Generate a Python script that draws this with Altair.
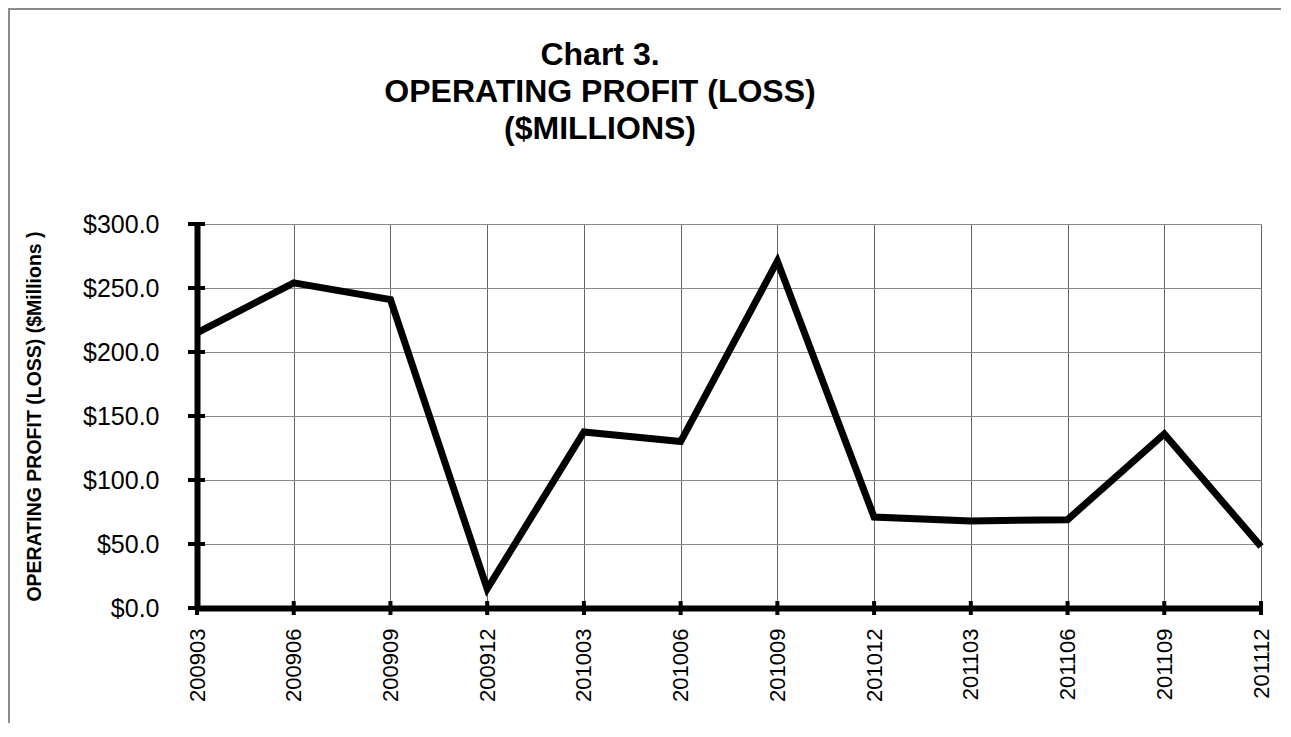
import altair as alt
import pandas as pd

periods = ["200903", "200906", "200909", "200912", "201003", "201006",
           "201009", "201012", "201103", "201106", "201109", "201112"]
profit = [215, 254, 241, 15, 137.5, 130, 271, 71, 68, 69, 136, 48]
y_ticks = [0, 50, 100, 150, 200, 250, 300]

title_lines = ["Chart 3.", "OPERATING PROFIT (LOSS)", "($MILLIONS)"]
y_title = "OPERATING PROFIT (LOSS) ($Millions )"

FONT = "Liberation Sans"
W, H = 1064, 384

df = pd.DataFrame({"period": periods, "value": profit})
df_yt = pd.DataFrame({"value": y_ticks})
df_xt = pd.DataFrame({"period": periods})

x_scale = alt.Scale(type="point", padding=0, domain=periods)
y_scale = alt.Scale(domain=[0, 300], nice=False, zero=True)

x_axis = alt.Axis(title=None, labelAngle=-90, labelFontSize=22, labelFont=FONT,
                  labelColor="black", labelPadding=20, ticks=False,
                  domainColor="black", domainWidth=6,
                  grid=True, gridColor="#666666", gridWidth=1)
y_axis = alt.Axis(title=y_title, values=y_ticks, format="$.1f",
                  labelFontSize=25, labelFont=FONT, labelColor="black",
                  labelPadding=38, ticks=False,
                  domainColor="black", domainWidth=6,
                  grid=True, gridColor="#8a8a8a", gridWidth=1,
                  titleFont=FONT, titleFontSize=19.5, titleFontWeight="bold",
                  titleColor="black", titlePadding=38)

x_enc = alt.X("period:O", scale=x_scale, axis=x_axis)
y_enc = alt.Y("value:Q", scale=y_scale, axis=y_axis)

line = alt.Chart(df).mark_line(color="black", strokeWidth=7, strokeJoin="miter").encode(
    x=x_enc, y=y_enc,
)

ytick = alt.Chart(df_yt).mark_rule(color="black", strokeWidth=4).encode(
    y=y_enc, x=alt.value(-9), x2=alt.value(8),
)

xtick = alt.Chart(df_xt).mark_rule(color="black", strokeWidth=4).encode(
    x=x_enc, y=alt.value(H - 7), y2=alt.value(H + 7),
)

border = alt.Chart(pd.DataFrame({"a": [1]})).mark_rect(
    fill="transparent", stroke="#8c8c8c", strokeWidth=2
).encode(
    x=alt.value(-188), x2=alt.value(W + 200),
    y=alt.value(-215), y2=alt.value(H + 300),
)

chart = alt.layer(line, ytick, xtick, border).properties(
    width=W, height=H,
    title=alt.TitleParams(title_lines, font=FONT, fontSize=32, fontWeight="bold",
                          color="black", lineHeight=37, anchor="middle", frame="group",
                          dx=-129, offset=-138),
    autosize=alt.AutoSizeParams(type="none"),
    padding={"left": 189, "top": 216, "right": 20, "bottom": 115},
).configure(background="white", view=alt.ViewConfig(stroke="transparent"))

chart.save("out.html", embed_options={"renderer": "svg", "actions": False})
